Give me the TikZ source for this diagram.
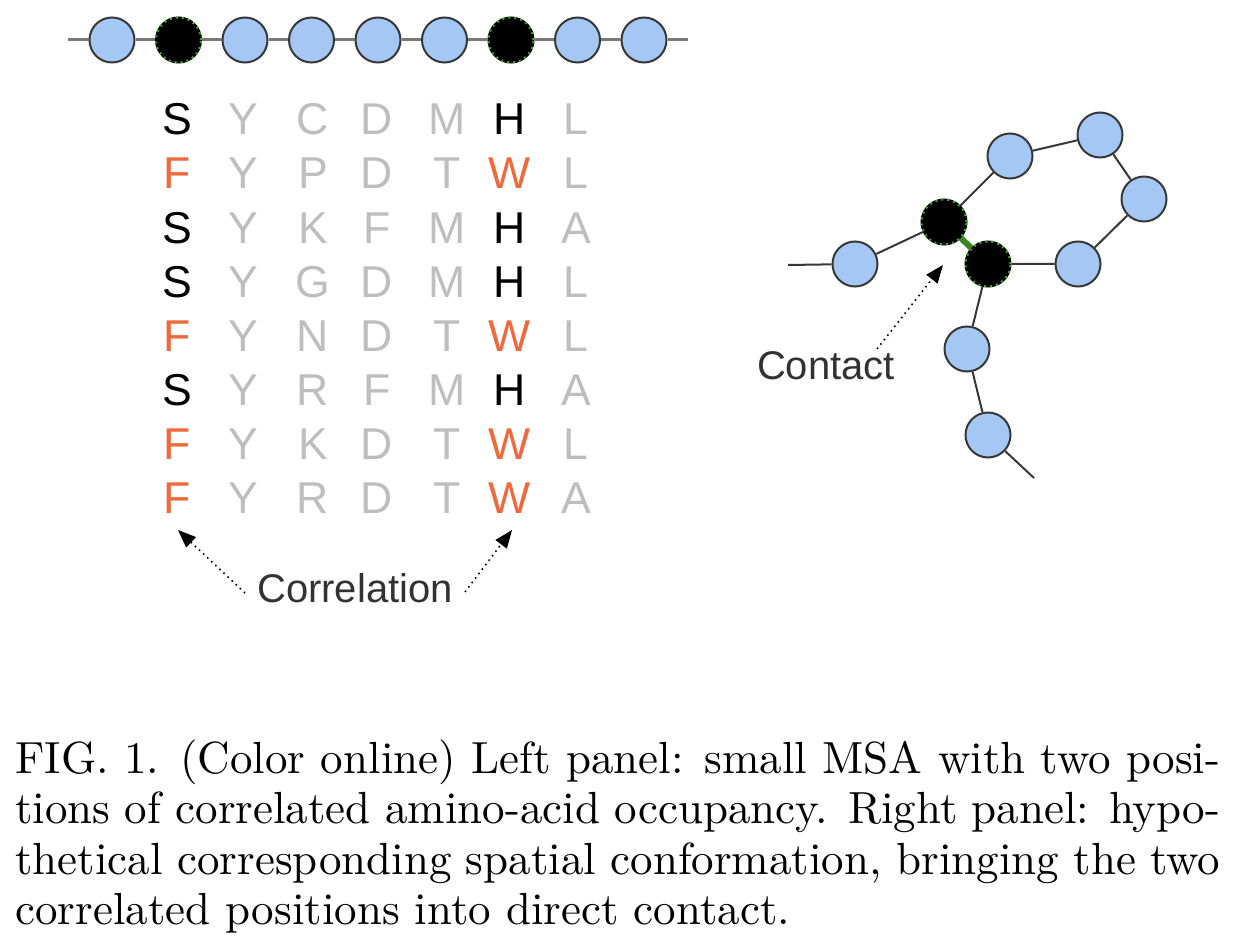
\documentclass[tikz,border=0pt]{standalone}
\usepackage{fontspec}
\newfontfamily\arialfont{Liberation Sans}
\newfontfamily\capfont{lmroman10-regular}[Extension=.otf]
\usetikzlibrary{arrows.meta}
\definecolor{beadblue}{RGB}{164,200,243}
\definecolor{beadedge}{RGB}{55,55,55}
\definecolor{beadgreen}{RGB}{60,170,40}
\definecolor{bondgreen}{RGB}{55,135,35}
\definecolor{msagray}{RGB}{190,190,190}
\definecolor{msaorange}{RGB}{240,105,60}
\definecolor{labelgray}{RGB}{50,50,50}
\definecolor{chaingray}{RGB}{120,120,120}
\begin{document}
\begin{tikzpicture}[x=0.5pt,y=-0.5pt,
 bead/.style={circle,draw=beadedge,line width=1pt,fill=beadblue,minimum size=22.5pt,inner sep=0pt},
 hotbead/.style={bead,fill=black,draw=black,postaction={draw=beadgreen,dotted,line width=1pt}},
 msa/.style={font=\arialfont\fontsize{22.3}{26}\selectfont,anchor=base,inner sep=0pt},
 lbl/.style={font=\arialfont\fontsize{20}{24}\selectfont,text=labelgray,anchor=base,inner sep=0pt},
 pointer/.style={dotted,line width=0.8pt,-{Triangle[length=9pt,width=7pt]}},
 chainline/.style={draw=chaingray,line width=1.5pt},
 foldline/.style={draw=beadedge,line width=1pt},
 bond/.style={draw=bondgreen,line width=3pt}]
\useasboundingbox (0,0) rectangle (1236,952);

% top chain
\foreach \i/\s in {1/bead,2/hotbead,3/bead,4/bead,5/bead,6/bead,7/hotbead,8/bead,9/bead}
  \node[\s] (t\i) at ({112+66.5*(\i-1)},40) {};
\coordinate (tstart) at (68,40);
\coordinate (tend) at (688,40);
\draw[chainline] (tstart) -- (t1) -- (t2) -- (t3) -- (t4) -- (t5) -- (t6) -- (t7) -- (t8) -- (t9) -- (tend);

% MSA
\foreach \pa/\pb/\pc/\pd/\pe/\pf/\pg/\col [count=\r] in
 {S/Y/C/D/M/H/L/black, F/Y/P/D/T/W/L/msaorange, S/Y/K/F/M/H/A/black, S/Y/G/D/M/H/L/black,
  F/Y/N/D/T/W/L/msaorange, S/Y/R/F/M/H/A/black, F/Y/K/D/T/W/L/msaorange, F/Y/R/D/T/W/A/msaorange}{
  \node[msa,text=\col] (m\r-1) at (177,{81+54*\r}) {\pa};
  \node[msa,text=msagray] (m\r-2) at (243,{81+54*\r}) {\pb};
  \node[msa,text=msagray] (m\r-3) at (313,{81+54*\r}) {\pc};
  \node[msa,text=msagray] (m\r-4) at (377,{81+54*\r}) {\pd};
  \node[msa,text=msagray] (m\r-5) at (447,{81+54*\r}) {\pe};
  \node[msa,text=\col] (m\r-6) at (510,{81+54*\r}) {\pf};
  \node[msa,text=msagray] (m\r-7) at (576,{81+54*\r}) {\pg};
}

% correlation label and arrows
\node[lbl] (corr) at (355,602) {Correlation};
\coordinate (corrL) at (245,593);
\coordinate (corrLtip) at (178,530);
\coordinate (corrR) at (465,592);
\coordinate (corrRtip) at (512,530);
\draw[pointer] (corrL) -- (corrLtip);
\draw[pointer] (corrR) -- (corrRtip);

% folded chain
\node[bead] (fa) at (855,264) {};
\node[hotbead] (fb) at (944,222) {};
\node[hotbead] (fc) at (988,264) {};
\node[bead] (fd) at (1010,156) {};
\node[bead] (fe) at (1100,135) {};
\node[bead] (ff) at (1144,199) {};
\node[bead] (fg) at (1078,264) {};
\node[bead] (fh) at (967,349) {};
\node[bead] (fi) at (988,435) {};
\coordinate (fstart) at (788,265);
\coordinate (fend) at (1034,478);
\draw[foldline] (fstart) -- (fa) -- (fb) -- (fd) -- (fe) -- (ff) -- (fg) -- (fc) -- (fh) -- (fi) -- (fend);
\draw[bond] (fb) -- (fc);

% contact label and arrow
\node[lbl] (cont) at (826,379) {Contact};
\coordinate (contT) at (877,349);
\coordinate (contTip) at (943,265);
\draw[pointer] (contT) -- (contTip);

% caption
\node[anchor=north west,inner sep=0pt,text width=602.5pt,align=justify,
      font=\capfont\fontsize{22.5}{25.3}\selectfont] (cap) at (15,739)
 {FIG. 1. (Color online) Left panel: small MSA with two posi-\linebreak
  tions of correlated amino-acid occupancy. Right panel: hypo-\linebreak
  thetical corresponding spatial conformation, bringing the two\linebreak
  correlated positions into direct contact.};
\end{tikzpicture}
\end{document}
